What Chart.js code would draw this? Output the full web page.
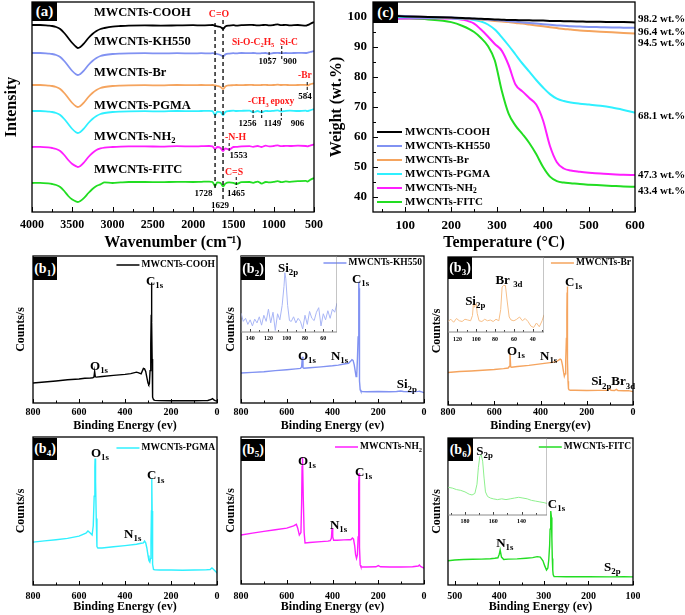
<!DOCTYPE html>
<html>
<head>
<meta charset="utf-8">
<script src="https://cdn.jsdelivr.net/npm/chart.js@4.4.1/dist/chart.umd.min.js"></script>
<style>
  body { margin: 0; background: #fff; }
  #wrap { position: relative; width: 685px; height: 615px; overflow: hidden; }
  canvas { position: absolute; }
  .tag { position: absolute; z-index: 5; background: #000; color: #fff; text-align: center;
         font: bold 14px "Liberation Serif", serif; }
  .tag sub { font-size: 9px; line-height: 0; vertical-align: -3px; }
</style>
</head>
<body>
<div id="wrap">
  <div class="tag" style="left:32px;top:2px;width:25px;height:19px;line-height:19px;font-size:15px">(a)</div>
  <div class="tag" style="left:373px;top:2px;width:25px;height:21px;line-height:21px;font-size:15px">(c)</div>
  <div class="tag" style="left:33px;top:257px;width:24px;height:23px;line-height:23px">(b<sub>1</sub>)</div>
  <div class="tag" style="left:241px;top:257px;width:24px;height:23px;line-height:23px">(b<sub>2</sub>)</div>
  <div class="tag" style="left:448px;top:257px;width:24px;height:22px;line-height:22px">(b<sub>3</sub>)</div>
  <div class="tag" style="left:33px;top:438px;width:24px;height:22px;line-height:22px">(b<sub>4</sub>)</div>
  <div class="tag" style="left:241px;top:439px;width:24px;height:22px;line-height:22px">(b<sub>5</sub>)</div>
  <div class="tag" style="left:448px;top:438px;width:25px;height:23px;line-height:23px">(b<sub>6</sub>)</div>
</div>
<script>
const SERIF = '"Liberation Serif", "Times New Roman", serif';
const RED = '#ff1a1a';

// sample names / colours (shared by a, c and b panels)
const sampleNames = ['MWCNTs-COOH', 'MWCNTs-KH550', 'MWCNTs-Br', 'MWCNTs-PGMA', 'MWCNTs-NH_{2}', 'MWCNTs-FITC'];
const sampleColors = ['#000000', '#8192f2', '#f5a45e', '#2ff0ff', '#ff1eff', '#22dd22'];

// ---------- (a) FTIR ----------
const ftirWave = [4000,3900,3800,3750,3700,3650,3600,3550,3500,3450,3430,3400,3350,3300,3250,3200,3150,3100,3000,2900,2800,2600,2400,2200,2000,1900,1800,1760,1728,1700,1660,1629,1600,1553,1500,1465,1400,1300,1256,1200,1149,1100,1057,1000,950,906,850,800,700,600,584,550,500];
const ftirCOOH = [93.5,93.5,93.2,93,92.5,91.5,89.5,87,84.5,82.5,82,82.5,84.5,87,89,90.5,91.5,92,92.7,93,93.2, 93.3,93.2,93.3,93.4,93.3,93.4,93.5,93.2,92.8, 92.5,91.5,92.8,93.2,93.4,93.2,93.4,93.6,93.5,93.3,93.4, 93.6,93.3,93.5,93.8,93.4,93.6,93.3,93.5,93.2,93.4,94,95];
const ftirKH550 = [79.5,79.5,79.2,79,78.5,77.5,75.5,73,70.5,68.8,68.5,69,71,73.5,75.5,77,78,78.5,79,79.2,79.3, 79.4,79.3,79.4,79.3,79.4,79.3,79.4,79.2,79, 78.5,77.8,78.8,79.2,79.4,79.3,79.5,79.4,79.5,79.3,79.4, 79.5,79.2,79.5,79.6,79.4,79.5,79.4,79.6,79.5,79.6,80,80.5];
const ftirBr = [63.5,63.5,63.2,63,62.5,61.5,59.5,57,54.5,52.8,52.5,53,55,57.5,59.5,61,62,62.5,63,63.2,63.3, 63.4,63.3,63.5,63.4,63.5,63.4,63.5,63.3,63, 62.5,61.5,62.8,63.3,63.4,63.5,63.4,63.6,63.5,63.4,63.5, 63.6,63.4,63.5,63.7,63.5,63.6,63.4,63.5,63.6,63.2,63.8,64.3];
const ftirPGMA = [50.5,50.5,50.2,50,49.5,48.5,46.5,44,41.5,39.8,39.5,40,42,44.5,46.5,48,49,49.5,50,50.2,50.3, 50.4,50.3,50.5,50.4,50.5,50.6,50.4,48.5,50.2, 50,48.5,50,50.5,50.7,50.5,50.6,50.7,49.8,50.5,49.8, 50.6,50.4,50.6,50.8,50.2,50.6,50.7,50.5,50.7,50.4,50.8,51.5];
const ftirNH2 = [32.5,32.6,32.3,32,31.5,30.5,28.5,26,24,22.8,22.5,23,25,27.5,29.5,31,31.8,32.2,32.5,32.7,32.8, 32.8,32.7,32.9,32.8,32.9,33,32.8,31.5,32.5, 32,30.5,31.8,31.2,32.5,32.6,32.8,32.9,32.6,33,32.5, 33.2,32.8,33,33.3,32.9,33.1,33,33.2,33,32.8,33.2,33.8];
const ftirFITC = [14.5,14.6,14.3,14,13.5,12.5,10.5,8,6.2,5.2,5,5.5,7.2,9.5,11.5,13,13.8,14.8,14.5,14.8,15, 15,14.9,15.1,15,15.1,15.2,15,13,14.8, 14.5,12.8,14.2,14.8,14.6,14,14.9,15,14.6,15.2,14.2, 15,14.8,15.1,15.4,14.9,15.3,15.1,15.4,15.6,15.2,16,17];
const ftirSeries = [ftirCOOH, ftirKH550, ftirBr, ftirPGMA, ftirNH2, ftirFITC];
const ftirNameY = [99.5, 85, 69.5, 53, 37.5, 21];
const ftirTicks = [4000,3500,3000,2500,2000,1500,1000,500];
const ftirMinor = [3750,3250,2750,2250,1750,1250,750];
// short peak markers: wavenumber, top, bottom (intensity units)
const ftirMarkW = [1057, 900, 584, 1256, 1149, 906, 1553, 1465];
const ftirMarkTop = [80, 83, 65, 51, 51, 52, 34.5, 17.5];
const ftirMarkBot = [74.5, 76, 59.5, 47, 46, 46, 29.5, 12];

// ---------- (c) TGA ----------
const tgaTemp = [30,60,100,150,200,225,250,265,280,295,310,325,340,355,370,385,400,415,430,445,460,480,500,525,550,575,600];
const tgaCOOH = [100.5,100.4,100.2,100,99.8,99.7,99.5,99.4,99.3,99.2,99.1,99,99,98.9,98.9,98.8,98.8,98.7,98.7,98.6,98.6,98.5,98.4,98.4,98.3,98.3,98.2];
const tgaKH550 = [100.6,100.5,100.3,100,99.8,99.6,99.4,99.3,99.1,99,98.8,98.6,98.4,98.2,98,97.8,97.6,97.4,97.2,97.1,96.9,96.8,96.7,96.6,96.5,96.45,96.4];
const tgaBr = [100.7,100.6,100.3,100,99.7,99.5,99.3,99.1,98.9,98.7,98.5,98.3,98,97.8,97.5,97.2,96.9,96.6,96.3,96,95.8,95.5,95.3,95.1,94.9,94.7,94.5];
const tgaPGMA = [100,100,99.9,99.8,99.6,99.4,99,98.5,97.5,95.8,93.3,90.5,87.5,84.5,81.8,79,76.5,74.3,72.8,72,71.5,71.1,70.8,70.4,69.8,69,68.1];
const tgaNH2 = [99.2,99.3,99.5,99.6,99.5,99.1,97.8,95.8,93.5,91,88.8,84,77.5,75.2,73,70.8,65.5,57,51.6,49.5,48.8,48.4,48.1,47.8,47.6,47.4,47.3];
const tgaFITC = [99.6,99.6,99.5,99.2,98.3,97,95,93,90.3,85.5,75.5,67.8,63.8,61,58,54.3,50,46.8,45.3,44.8,44.6,44.3,44.1,43.9,43.7,43.5,43.4];
const tgaSeries = [tgaCOOH, tgaKH550, tgaBr, tgaPGMA, tgaNH2, tgaFITC];
const tgaEndText = ['98.2 wt.%', '96.4 wt.%', '94.5 wt.%', '68.1 wt.%', '47.3 wt.%', '43.4 wt.%'];
const tgaEndY = [99.3, 95, 91.3, 67, 47.3, 42];
const tgaTicksX = [100,200,300,400,500,600];
const tgaMinorX = [50,150,250,350,450,550];
const tgaTicksY = [40,50,60,70,80,90,100];
const tgaMinorY = [45,55,65,75,85,95];

// ---------- (b) XPS surveys ----------
const xpsTicks = [800,600,400,200,0];
const xpsMinor = [700,500,300,100];
const b1E = [800,750,700,650,600,575,550,540,535,532,529,525,500,450,400,375,350,340,330,320,315,310,305,300,297,294,291,288,286,285,284.5,284,283,282,281,279,276,270,250,200,150,100,60,40,25,20,15,8,0];
const b1C = [13.6,14.3,15,15.8,16.3,16.8,17,17.2,17.6,21.5,17.8,17.6,18,18.8,19.5,20,21,20.5,19.8,23.5,23.2,21.5,17.5,13.5,12.5,13,22,40,60,76,82,78,55,30,12,4,2.2,1.8,1.6,1.5,1.5,1.5,1.6,1.7,2.4,3,2.3,1.6,1.4];
const b2E = [800,750,700,650,600,560,540,535,532,529,525,500,450,400,375,350,330,320,315,310,305,300,297,294,291,288,286,285,284.5,284,283,282,281,279,276,270,250,200,150,120,102,90,50,25,20,10,0];
const b2C = [20.4,20.8,21.3,22,22.6,23.2,23.5,24.5,31.5,24,23.6,24,24.6,25.3,25.8,26.5,27,28.5,29.5,29,26,21,18,19,30,45,65,78,82.5,78,55,30,15,9,8,7.8,7.7,7.8,7.7,7.8,8.2,7.8,7.7,7.9,8,7.6,7];
const b3E = [800,750,700,650,600,560,540,535,532,529,525,500,450,400,350,330,320,315,310,305,300,297,294,291,288,286,285,284.5,284,283,282,281,279,276,270,250,200,150,110,102,95,80,72,65,40,20,10,0];
const b3C = [22,22.6,23,23.5,24,24.6,25,26,35,25.8,25.5,26,26.8,27.8,28.8,29.5,30.5,31,30.5,27,22,19.5,21,30,45,62,76,80,77,55,30,16,11,10.2,10,10,9.8,9.9,10,11,10,9.8,10.6,9.8,9.6,9.7,9.4,9];
const b4E = [800,750,700,650,600,570,561,550,543,538,534,531,530,528,525,522,518,500,450,400,350,330,320,315,310,305,300,296,292,289,287,285,284,283.5,283,282,281,279,276,270,250,200,150,100,50,30,22,18,10,5,0];
const b4C = [29,29.8,30.6,31.5,33,35,36.5,35,33.8,40,60,80,85.5,70,45,26,25,25,25.8,26.6,27.5,28.2,28.5,29.7,28.5,25,20,16.5,15.5,18,30,50,66,72,70,50,28,14,10.5,10.2,10.1,10.1,10,10.1,10.2,10.5,11.5,11,9.8,9,8];
const b5E = [800,750,700,650,600,570,558,552,545,538,535,533,531,528,524,520,500,450,420,410,405,402,399,395,380,350,330,320,313,308,303,299,295,291,288,286,285,284,283,282,281,279,276,270,250,210,200,190,150,100,50,25,20,15,5,0];
const b5C = [33.3,34.6,35.8,36.9,38,39.5,40.6,38,33.3,35,55,80,86.4,60,35,27.9,28.2,28.8,29.2,29.5,31,38,32,29.8,29.8,30,30.2,30.1,31.3,30.5,26,20,17.5,20,32,50,68,75.3,72,50,25,13,11.8,11.6,11.6,11.7,12.5,11.7,11.6,11.6,11.7,12.2,12.9,12,11.2,10.9];
const b6E = [515,500,480,460,440,420,410,403,400,398,395,390,380,360,340,325,315,308,302,298,294,291,289,287,286,285,284,283,282,281,280,279,277,270,250,200,150,120,100];
const b6C = [16.5,17,17.3,17.5,17.6,17.9,18.2,18.5,21,23.8,19,17.3,17.6,17.8,18.2,18.6,19.3,19,16.5,13,10.2,11.5,17,27,38,46,50.3,46,32,18,10,7,5.8,5.7,5.6,5.6,5.5,5.6,5.5];
const b6Ticks = [500,400,300,200,100];
const b6Minor = [450,350,250,150];

// insets
const b2inE = [150,147.5,145,142.5,140,137.5,135,132.5,130,127.5,125,122.5,120,117.5,115,112.5,110,107.5,105,103,102,101,99,97,95,92.5,90,87.5,85,82.5,80,77.5,75,72.5,70,67.5,65,62.5,60,57.5,55,52.5,50,47.5,45];
const b2inC = [25,14,18,10,16,8,17,12,20,9,22,14,30,12,26,2,24,16,35,60,78,70,35,15,14,20,12,18,14,4,22,10,27,18,15,26,32,8,24,16,28,18,30,26,38];
const b2inTicks = [140,120,100,80,60];
const b2inMinor = [130,110,90,70,50];
const b3inE = [130,127,124,121,118,115,112,109,106,104,103,102,101,100,99,97,94,91,88,85,82,79,76,74,72.5,71,69,67,65,63,60,57,54,51,48,45,42,39,36,33,30,28];
const b3inC = [14,17,13,18,15,14,17,16,15,22,38,33,36,38,25,15,14,17,15,16,14,17,15,30,60,62,62,40,20,16,15,17,20,15,18,14,8,6,12,7,15,23];
const b3inTicks = [120,100,80,60,40];
const b3inMinor = [110,90,70,50,30];
const b6inE = [192,189,186,183,180,177,175,173,171.5,170.5,169.5,168.5,167.5,166.5,165.5,164,162,160,157,154,151,148,145,142,139,136,133,130,127,124,122];
const b6inC = [36,35,33,32,30,27,26,28,40,62,76,78,70,48,30,24,22,21,20,21,20,21,22,23,22,21,19,18,17,16,15];
const b6inTicks = [180,160,140];
const b6inMinor = [190,170,150,130];

// ---------- helpers ----------
function richParts(s) {
  const out = [];
  s.split(/(_\{[^}]*\}|\^\{[^}]*\})/).forEach(p => {
    if (!p) return;
    if (p[0] === '_') out.push([p.slice(2, -1), 1]);
    else if (p[0] === '^') out.push([p.slice(2, -1), 2]);
    else out.push([p, 0]);
  });
  return out;
}
function fontOf(size) { return 'bold ' + size + 'px ' + SERIF; }
function richWidth(ctx, s, size) {
  let w = 0;
  richParts(s).forEach(p => { ctx.font = fontOf(p[1] ? size * 0.68 : size); w += ctx.measureText(p[0]).width; });
  return w;
}
function drawRich(ctx, x, y, s, size, color, align) {
  const w = richWidth(ctx, s, size);
  let cx = align === 'center' ? x - w / 2 : align === 'right' ? x - w : x;
  ctx.fillStyle = color; ctx.textBaseline = 'middle'; ctx.textAlign = 'left';
  richParts(s).forEach(p => {
    ctx.font = fontOf(p[1] ? size * 0.68 : size);
    const dy = p[1] === 1 ? size * 0.32 : p[1] === 2 ? -size * 0.35 : 0;
    ctx.fillText(p[0], cx, y + dy);
    cx += ctx.measureText(p[0]).width;
  });
}

// frame, inward ticks, annotations and legends
const deco = {
  id: 'deco',
  afterDraw(chart, args, o) {
    const ctx = chart.ctx, a = chart.chartArea;
    const sx = chart.scales.x, sy = chart.scales.y;
    ctx.save();
    ctx.strokeStyle = o.tickColor || '#000';
    ctx.lineWidth = 1;
    const tick = (vals, len, axis) => (vals || []).forEach(v => {
      ctx.beginPath();
      if (axis === 'x') {
        const p = Math.round(sx.getPixelForValue(v)) + 0.5;
        ctx.moveTo(p, a.bottom); ctx.lineTo(p, a.bottom - len);
      } else {
        const p = Math.round(sy.getPixelForValue(v)) + 0.5;
        ctx.moveTo(a.left, p); ctx.lineTo(a.left + len, p);
      }
      ctx.stroke();
    });
    if (o.xt) { tick(o.xt.major, o.xt.len, 'x'); tick(o.xt.minor, o.xt.mlen, 'x'); }
    if (o.yt) { tick(o.yt.major, o.yt.len, 'y'); tick(o.yt.minor, o.yt.mlen, 'y'); }
    (o.vlines || []).forEach(l => {
      const p = sx.getPixelForValue(l.x);
      ctx.beginPath(); ctx.setLineDash(l.dash || []); ctx.lineWidth = l.w || 1; ctx.strokeStyle = '#000';
      ctx.moveTo(p, sy.getPixelForValue(l.y1)); ctx.lineTo(p, sy.getPixelForValue(l.y2)); ctx.stroke();
    });
    ctx.setLineDash([]);
    ctx.strokeStyle = o.frame || '#000'; ctx.lineWidth = o.fw || 1.3;
    ctx.strokeRect(a.left, a.top, a.right - a.left, a.bottom - a.top);
    (o.texts || []).forEach(t => drawRich(ctx, sx.getPixelForValue(t.x) + (t.dx || 0), sy.getPixelForValue(t.y),
      t.t, t.size || o.tsize || 12, t.c || '#000', t.align || 'left'));
    if (o.legend) {
      const L = o.legend;
      L.items.forEach((it, i) => {
        const y = a.top + L.y + i * (L.dy || 0);
        const w = richWidth(ctx, it.t, L.size);
        let x0, x1, tx;
        if (L.right) { tx = a.right - L.x - w; x1 = tx - 2; x0 = x1 - L.len; }
        else { x0 = a.left + L.x; x1 = x0 + L.len; tx = x1 + 3; }
        ctx.strokeStyle = it.c; ctx.lineWidth = L.lw || 1.5;
        ctx.beginPath(); ctx.moveTo(x0, y); ctx.lineTo(x1, y); ctx.stroke();
        drawRich(ctx, tx, y, it.t, L.size, '#000', 'left');
      });
    }
    ctx.restore();
  }
};

const wrap = document.getElementById('wrap');
function canvasAt(id, l, t, w, h) {
  const c = document.createElement('canvas');
  c.id = id; c.width = w; c.height = h;
  Object.assign(c.style, {left: l + 'px', top: t + 'px', width: w + 'px', height: h + 'px'});
  wrap.appendChild(c);
  return c;
}
function line(xs, ys, color, width, smooth) {
  return {
    data: xs.map((x, i) => ({x: x, y: ys[i]})),
    borderColor: color, borderWidth: width, pointRadius: 0, fill: false,
    cubicInterpolationMode: smooth ? 'monotone' : 'default', tension: 0
  };
}
function xScale(o) {
  return {
    type: 'linear', min: o.min, max: o.max, reverse: !!o.reverse,
    grid: {display: false, drawTicks: false}, border: {display: false},
    ticks: {font: {family: SERIF, weight: 'bold', size: o.size}, color: '#000', padding: o.pad,
            maxRotation: 0, autoSkip: false, callback: v => String(v)},
    afterBuildTicks: s => { s.ticks = o.ticks.map(v => ({value: v})); },
    afterFit: s => { s.height = o.h; s.paddingLeft = 0; s.paddingRight = 0; },
    title: o.title ? {display: true, text: o.title, color: '#000',
      font: {family: SERIF, weight: 'bold', size: o.tsize}, padding: {top: 0, bottom: o.tpad}} : {display: false}
  };
}
function yScale(o) {
  const s = {
    type: 'linear', min: o.min, max: o.max, display: o.show !== false,
    grid: {display: false, drawTicks: false}, border: {display: false},
    afterFit: sc => { sc.width = o.w || 0; sc.paddingTop = 0; sc.paddingBottom = 0; },
    title: o.title ? {display: true, text: o.title, color: '#000',
      font: {family: SERIF, weight: 'bold', size: o.tsize}, padding: {top: o.tpad, bottom: 0}} : {display: false}
  };
  if (o.ticks) {
    s.ticks = {font: {family: SERIF, weight: 'bold', size: o.size}, color: '#000', padding: o.pad,
               autoSkip: false, callback: v => String(v)};
    s.afterBuildTicks = sc => { sc.ticks = o.ticks.map(v => ({value: v})); };
  } else {
    s.ticks = {display: false};
  }
  return s;
}
function chart(canvas, datasets, o) {
  return new Chart(canvas, {
    type: 'line',
    data: {datasets: datasets},
    options: {
      responsive: false, animation: false, devicePixelRatio: 1,
      layout: {padding: o.pad},
      plugins: {legend: {display: false}, tooltip: {enabled: false}, deco: o.deco},
      scales: {x: xScale(o.x), y: yScale(o.y)}
    },
    plugins: [deco]
  });
}

// ---------- (a) ----------
const ftirTexts = sampleNames.map((n, i) => ({x: 3231, y: ftirNameY[i], t: n, size: 12.5}));
ftirTexts.push(
  {x: 1679, y: 99, t: 'C=O', c: RED, size: 9.8, align: 'center'},
  {x: 1518, y: 84.75, t: 'Si-O-C_{2}H_{5}', c: RED, size: 9.5},
  {x: 922, y: 84.75, t: 'Si-C', c: RED, size: 9.5},
  {x: 699, y: 68, t: '-Br', c: RED, size: 9.5},
  {x: 1319, y: 55, t: '-CH_{3}', c: RED, size: 9.5},
  {x: 1040, y: 55, t: 'epoxy', c: RED, size: 9.5},
  {x: 1605, y: 37.25, t: '-N-H', c: RED, size: 9.8},
  {x: 1605, y: 20, t: 'C=S', c: RED, size: 9.8},
  {x: 1077, y: 75, t: '1057', size: 9, align: 'center'},
  {x: 798, y: 75, t: '900', size: 9, align: 'center'},
  {x: 612, y: 57.5, t: '584', size: 9, align: 'center'},
  {x: 1325, y: 44, t: '1256', size: 9, align: 'center'},
  {x: 1015, y: 44, t: '1149', size: 9, align: 'center'},
  {x: 705, y: 44, t: '906', size: 9, align: 'center'},
  {x: 1437, y: 28, t: '1553', size: 9, align: 'center'},
  {x: 1872, y: 9.25, t: '1728', size: 9, align: 'center'},
  {x: 1468, y: 9.25, t: '1465', size: 9, align: 'center'},
  {x: 1667, y: 3.25, t: '1629', size: 9, align: 'center'}
);
const ftirLines = [
  {x: 1728, y1: 94.5, y2: 12, dash: [4, 3], w: 1.3},
  {x: 1629, y1: 96, y2: 6, dash: [4, 3], w: 1.3}
].concat(ftirMarkW.map((w, i) => ({x: w, y1: ftirMarkTop[i], y2: ftirMarkBot[i], dash: [3, 2], w: 1})));

chart(canvasAt('ftir', 0, 0, 335, 255), ftirSeries.map((s, i) => line(ftirWave, s, sampleColors[i], 1.8, true)), {
  pad: {left: 0, right: 21, top: 2, bottom: 0},
  x: {min: 500, max: 4000, reverse: true, ticks: ftirTicks, size: 12, pad: 6, h: 43,
      title: 'Wavenumber (cm\u207B\u00B9)', tsize: 16, tpad: 2.4},
  y: {min: 0, max: 105, w: 32, title: 'Intensity', tsize: 16, tpad: 2.4},
  deco: {xt: {major: ftirTicks, minor: ftirMinor, len: 5, mlen: 3}, texts: ftirTexts, vlines: ftirLines}
});

// ---------- (c) ----------
chart(canvasAt('tga', 326, 0, 359, 255), tgaSeries.map((s, i) => line(tgaTemp, s, sampleColors[i], 2, true)), {
  pad: {left: 0, right: 50, top: 2, bottom: 0},
  x: {min: 30, max: 600, ticks: tgaTicksX, size: 13, pad: 6, h: 43, title: 'Temperature (\u00B0C)', tsize: 16, tpad: 2.4},
  y: {min: 35, max: 105, ticks: tgaTicksY, size: 13, pad: 6, w: 47, title: 'Weight (wt.%)', tsize: 16, tpad: 1.4},
  deco: {
    xt: {major: tgaTicksX, minor: tgaMinorX, len: 5, mlen: 3},
    yt: {major: tgaTicksY, minor: tgaMinorY, len: 5, mlen: 3},
    texts: tgaEndText.map((t, i) => ({x: 600, dx: 3, y: tgaEndY[i], t: t, size: 11})),
    legend: {x: 4, y: 130, dy: 14, len: 25, lw: 2, size: 11,
             items: sampleNames.map((n, i) => ({t: n, c: sampleColors[i]}))}
  }
});

// ---------- (b1)-(b6) ----------
function xpsPanel(id, l, t, w, h, E, C, idx, o) {
  chart(canvasAt(id, l, t, w, h), [line(E, C, sampleColors[idx], 1.4, false)], {
    pad: {left: 0, right: o.right, top: o.top, bottom: 0},
    x: {min: o.min || 0, max: o.max || 800, reverse: true, ticks: o.ticks || xpsTicks, size: 10, pad: o.lpad, h: o.h,
        title: o.title || 'Binding Energy (ev)', tsize: 12, tpad: 0.8},
    y: {min: 0, max: 100, w: o.yw, title: 'Counts/s', tsize: 12, tpad: o.ytp},
    deco: {
      xt: {major: o.ticks || xpsTicks, minor: o.minor || xpsMinor, len: 4, mlen: 2.5},
      texts: o.texts.map(s => ({x: s[0], y: s[1], t: s[2], size: 13})),
      legend: {right: true, x: 2, y: o.ly, len: 23, lw: 1.5, size: 9.5, items: [{t: sampleNames[idx], c: sampleColors[idx]}]}
    }
  });
}
function inset(id, l, t, w, h, E, C, color, o) {
  chart(canvasAt(id, l, t, w, h), [line(E, C, color, 1, false)], {
    pad: {left: 0, right: 0, top: 0, bottom: 0},
    x: {min: o.min, max: o.max, reverse: true, ticks: o.ticks, size: 6, pad: o.lpad, h: h - o.ah},
    y: {min: 0, max: 100, show: false},
    deco: {frame: '#8a8a8a', fw: 1, tickColor: '#444', xt: {major: o.ticks, minor: o.minor, len: 3, mlen: 2},
           texts: o.texts.map(s => ({x: s[0], y: s[1], t: s[2], size: 13}))}
  });
}

xpsPanel('b1', 0, 250, 222, 184, b1E, b1C, 0, {right: 5, top: 6, h: 31, lpad: 3, yw: 33, ytp: 13.8, ly: 9,
  texts: [[552, 25, 'O_{1s}'], [309, 82.3, 'C_{1s}']]});
xpsPanel('b2', 222, 250, 208, 184, b2E, b2C, 1, {right: 6, top: 6, h: 31, lpad: 3, yw: 19, ytp: 1.8, ly: 7,
  texts: [[551, 31.3, 'O_{1s}'], [407, 31.3, 'N_{1s}'], [315, 83.7, 'C_{1s}'], [119, 12.2, 'Si_{2p}']]});
xpsPanel('b3', 428, 250, 212, 184, b3E, b3C, 2, {right: 7, top: 7, h: 29, lpad: 1.5, yw: 20, ytp: 1.8, ly: 6,
  title: 'Binding Energy(ev)',
  texts: [[545, 35.8, 'O_{1s}'], [402, 32.4, 'N_{1s}'], [294, 83, 'C_{1s}'], [181, 15.5, 'Si_{2p}Br_{3d}']]});
xpsPanel('b4', 0, 430, 222, 185, b4E, b4C, 3, {right: 5, top: 7, h: 30, lpad: 5, yw: 33, ytp: 13.8, ly: 11,
  texts: [[548, 88.5, 'O_{1s}'], [304, 73.6, 'C_{1s}'], [404, 33.8, 'N_{1s}']]});
xpsPanel('b5', 222, 430, 208, 185, b5E, b5C, 4, {right: 6, top: 7, h: 31, lpad: 6, yw: 19, ytp: 1.8, ly: 10,
  texts: [[551, 83, 'O_{1s}'], [411, 40, 'N_{1s}'], [302, 76, 'C_{1s}']]});
xpsPanel('b6', 428, 430, 212, 185, b6E, b6C, 5, {right: 7, top: 8, h: 30, lpad: 5, yw: 20, ytp: 1.8, ly: 9,
  min: 100, max: 515, ticks: b6Ticks, minor: b6Minor,
  texts: [[407, 27.9, 'N_{1s}'], [291, 54.4, 'C_{1s}'], [165, 11.6, 'S_{2p}']]});

inset('b2in', 241, 256, 96, 90, b2inE, b2inC, '#a9b6f6', {min: 45, max: 150, ticks: b2inTicks, minor: b2inMinor,
  lpad: 3, ah: 76, texts: [[109.5, 83, 'Si_{2p}']]});
inset('b3in', 448, 257, 96, 89, b3inE, b3inC, '#f7bf88', {min: 28, max: 130, ticks: b3inTicks, minor: b3inMinor,
  lpad: 3.5, ah: 75, texts: [[111.8, 40, 'Si_{2p}'], [79.6, 69, 'Br _{3d}']]});
inset('b6in', 448, 438, 99, 91, b6inE, b6inC, '#8ef08e', {min: 122, max: 192, ticks: b6inTicks, minor: b6inMinor,
  lpad: 3, ah: 77, texts: [[172, 81.8, 'S_{2p}']]});
</script>
</body>
</html>
